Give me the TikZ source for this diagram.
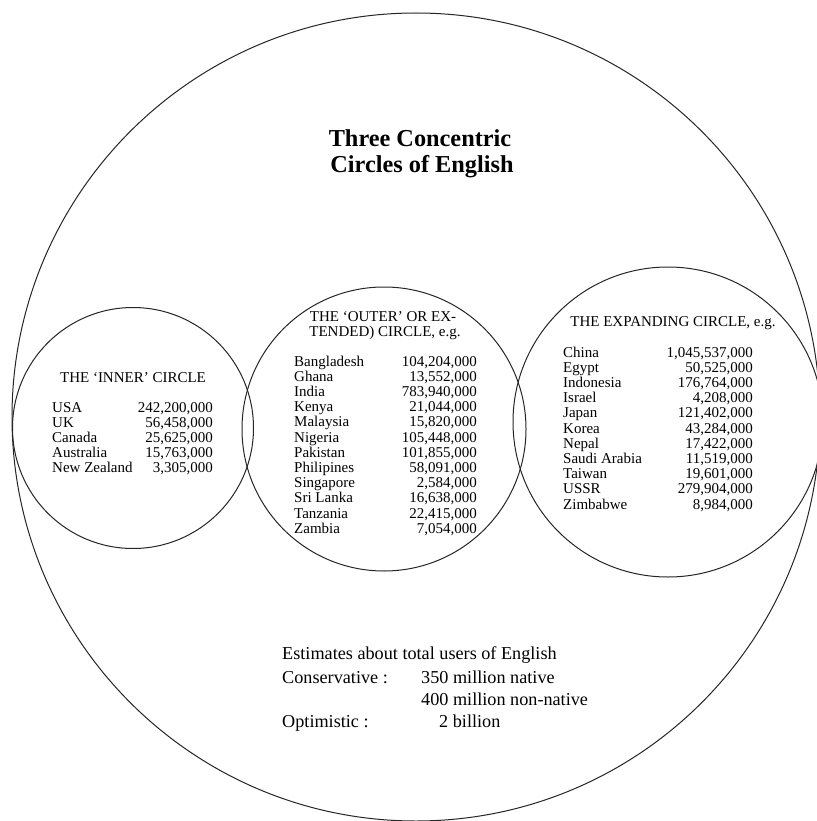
\documentclass[tikz,border=0pt]{standalone}
\usepackage{fontspec}
\setmainfont{Liberation Serif}
\begin{document}
\begin{tikzpicture}[x=1pt,y=-1pt,
  ring/.style={circle,draw=black!85,line width=1pt,inner sep=0pt,minimum size=#1},
  txt/.style={inner sep=0pt,font=\fontsize{15}{15.2}\selectfont},
  lft/.style={txt,anchor=base west},
  rgt/.style={txt,anchor=base east},
  ctr/.style={txt,anchor=base},
  big/.style={inner sep=0pt,anchor=base west,font=\fontsize{18.2}{22}\selectfont},
  ttl/.style={inner sep=0pt,anchor=base,font=\bfseries\fontsize{24.3}{26}\selectfont}]
\useasboundingbox (0,0) rectangle (816,821);
\fill[white] (0,0) rectangle (816,821);

% circles
\node[ring=808pt] (world) at (416,417) {};
\node[ring=241pt] (innerc) at (133,428) {};
\node[ring=284pt] (outerc) at (384,429) {};
\node[ring=310pt] (expc) at (668,422) {};

% title
\node[ttl] (t1) at (420,147) {Three Concentric};
\node[ttl] (t2) at (422,172) {Circles of English};

% inner circle
\node[ctr] (ih) at (133,382) {THE ‘INNER’ CIRCLE};
\foreach \n/\v [count=\i] in {USA/242{,}200{,}000,UK/56{,}458{,}000,Canada/25{,}625{,}000,Australia/15{,}763{,}000,New Zealand/3{,}305{,}000}{
  \node[lft] (in\i) at (52,{412+15.2*(\i-1)}) {\n};
  \node[rgt] (iv\i) at (213,{412+15.2*(\i-1)}) {\v};
}

% outer circle
\node[ctr] (oh1) at (383,321) {THE ‘OUTER’ OR EX-};
\node[ctr] (oh2) at (385,336) {TENDED) CIRCLE, e.g.};
\foreach \n/\v [count=\i] in {Bangladesh/104{,}204{,}000,Ghana/13{,}552{,}000,India/783{,}940{,}000,Kenya/21{,}044{,}000,Malaysia/15{,}820{,}000,Nigeria/105{,}448{,}000,Pakistan/101{,}855{,}000,Philipines/58{,}091{,}000,Singapore/2{,}584{,}000,Sri Lanka/16{,}638{,}000,Tanzania/22{,}415{,}000,Zambia/7{,}054{,}000}{
  \node[lft] (on\i) at (294,{366+15.2*(\i-1)}) {\n};
  \node[rgt] (ov\i) at (477,{366+15.2*(\i-1)}) {\v};
}

% expanding circle
\node[ctr] (eh) at (673,326) {THE EXPANDING CIRCLE, e.g.};
\foreach \n/\v [count=\i] in {China/1{,}045{,}537{,}000,Egypt/50{,}525{,}000,Indonesia/176{,}764{,}000,Israel/4{,}208{,}000,Japan/121{,}402{,}000,Korea/43{,}284{,}000,Nepal/17{,}422{,}000,Saudi Arabia/11{,}519{,}000,Taiwan/19{,}601{,}000,USSR/279{,}904{,}000,Zimbabwe/8{,}984{,}000}{
  \node[lft] (en\i) at (563,{357+15.2*(\i-1)}) {\n};
  \node[rgt] (ev\i) at (753,{357+15.2*(\i-1)}) {\v};
}

% estimates
\node[big] (est) at (282,659) {Estimates about total users of English};
\node[big] (cons) at (282,683) {Conservative :};
\node[big] (cons1) at (421,683) {350 million native};
\node[big] (cons2) at (421,705) {400 million non-native};
\node[big] (opt) at (282,727) {Optimistic :};
\node[big] (opt1) at (439,727) {2 billion};
\end{tikzpicture}
\end{document}
